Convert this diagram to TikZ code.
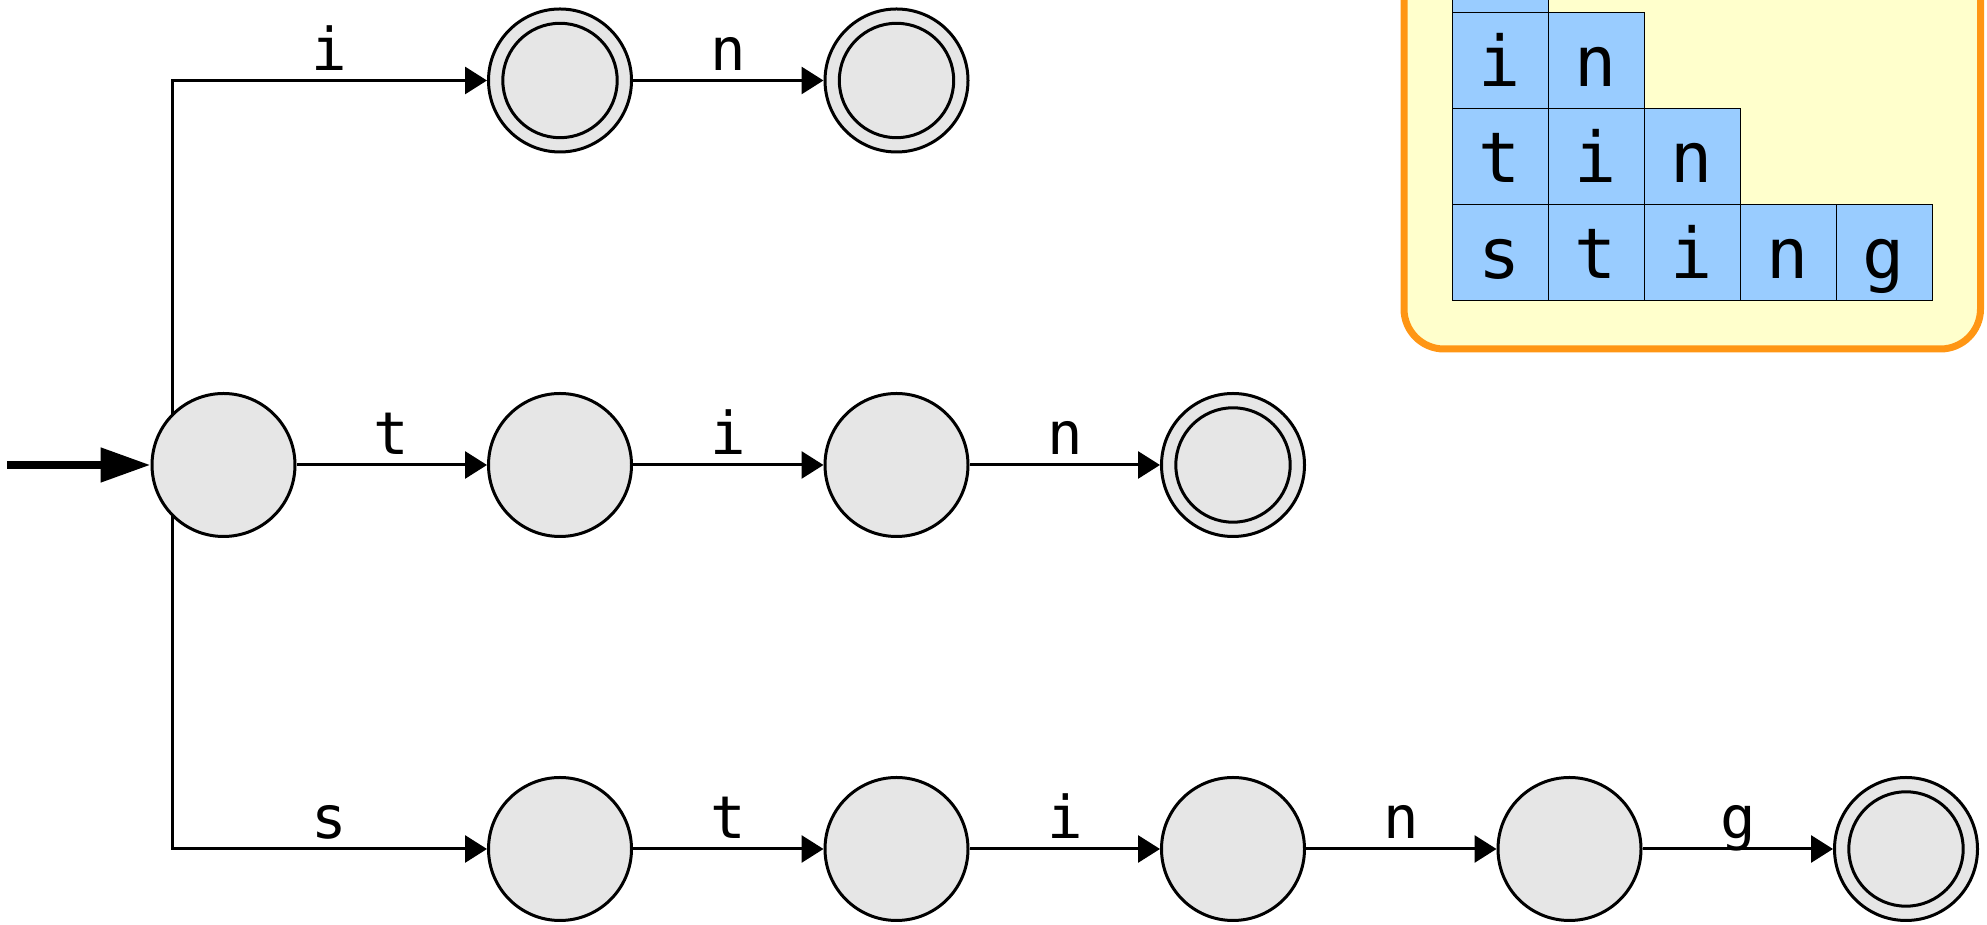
\documentclass[tikz,border=0pt]{standalone}
\usepackage{fontspec}
\usepackage{tikz}
\usetikzlibrary{arrows.meta,backgrounds}
\newfontfamily\monofont{DejaVu Sans Mono}
\definecolor{stategray}{HTML}{E6E6E6}
\definecolor{cellblue}{HTML}{99CCFF}
\definecolor{panelyellow}{HTML}{FFFFCC}
\definecolor{panelorange}{HTML}{FF9614}

\begin{document}
\begin{tikzpicture}[x=0.5pt, y=0.5pt,
    state/.style={circle, draw=black, fill=stategray, line width=1.5pt,
                  minimum size=71.5pt, inner sep=0pt},
    accept/.style={draw=black, line width=1.5pt},
    edge/.style={draw=black, line width=1.5pt, -{Triangle[length=11pt, width=13.5pt]}},
    start/.style={draw=black, line width=4pt, -{Triangle[length=25pt, width=16.5pt]}},
    lbl/.style={anchor=base, yshift=5pt, inner sep=0pt,
                font=\monofont\fontsize{29.5}{34}\selectfont},
    cell/.style={rectangle, draw=black, line width=0.5pt, fill=cellblue,
                 minimum size=48pt, inner sep=0pt, text height=26pt, text depth=0pt,
                 font=\monofont\fontsize{35}{40}\selectfont},
    panel/.style={draw=panelorange, fill=panelyellow, line width=3.5pt, rounded corners=20pt}
  ]
  \clip (0,0) rectangle (1987,925);

  % word panel
  \draw[panel] (1404,576) rectangle (1980.5,1120);
  \node[cell] (cell-0-0) at (1500,960) {};
  \foreach \l [count=\c from 0] in {i,n}
    \node[cell] (cell-1-\c) at (1500+96*\c,864) {\l};
  \foreach \l [count=\c from 0] in {t,i,n}
    \node[cell] (cell-2-\c) at (1500+96*\c,768) {\l};
  \foreach \l [count=\c from 0] in {s,t,i,n,g}
    \node[cell] (cell-3-\c) at (1500+96*\c,672) {\l};

  % states
  \node[state] (q0) at (223.5,460) {};
  \node[state] (a1) at (560,844.5)  {};
  \node[state] (a2) at (896.5,844.5) {};
  \node[state] (b1) at (560,460)    {};
  \node[state] (b2) at (896.5,460)  {};
  \node[state] (b3) at (1233,460)   {};
  \node[state] (c1) at (560,76)     {};
  \node[state] (c2) at (896.5,76)   {};
  \node[state] (c3) at (1233,76)    {};
  \node[state] (c4) at (1569.5,76)  {};
  \node[state] (c5) at (1906,76)    {};
  \foreach \n in {a1,a2,b3,c5}
    \draw[accept] (\n.center) circle (28.6pt);

  \coordinate (pre) at (7,460);
  \draw[start] (pre) -- (q0);

  \begin{scope}[on background layer]
    \draw[edge] ([xshift=-25.6pt]q0.center) |- node[lbl, pos=0.75] {i} (a1);
    \draw[edge] ([xshift=-25.6pt]q0.center) |- node[lbl, pos=0.75] {s} (c1);
  \end{scope}
  \draw[edge] (a1) -- node[lbl] {n} (a2);

  \draw[edge] (q0) -- node[lbl] {t} (b1);
  \draw[edge] (b1) -- node[lbl] {i} (b2);
  \draw[edge] (b2) -- node[lbl] {n} (b3);

  \draw[edge] (c1) -- node[lbl] {t} (c2);
  \draw[edge] (c2) -- node[lbl] {i} (c3);
  \draw[edge] (c3) -- node[lbl] {n} (c4);
  \draw[edge] (c4) -- node[lbl] {g} (c5);
\end{tikzpicture}
\end{document}
